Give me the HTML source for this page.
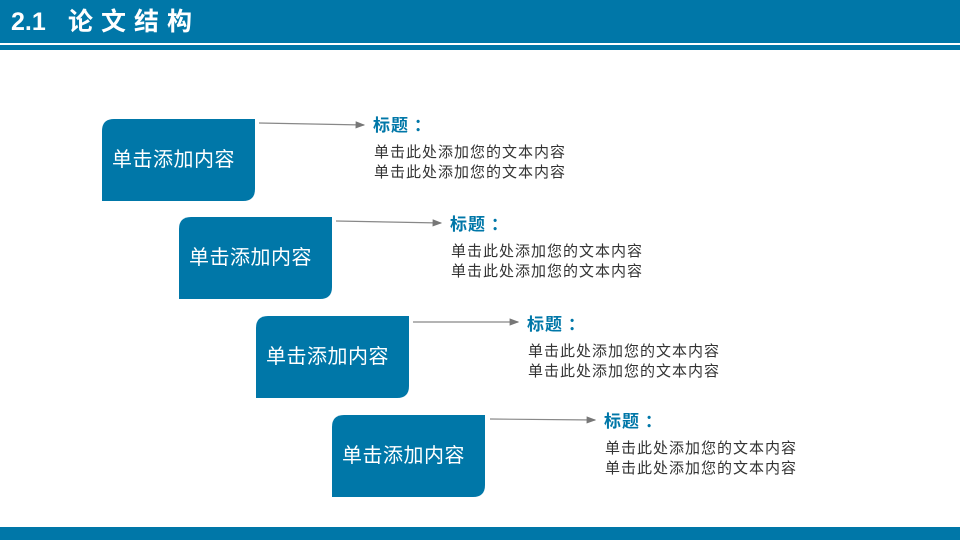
<!DOCTYPE html>
<html><head><meta charset="utf-8"><style>
body{margin:0;width:960px;height:540px;background:#fff;position:relative;overflow:hidden;font-family:"Liberation Sans","Noto Sans CJK SC",sans-serif}
.hd{position:absolute;left:0;top:0;width:960px;height:43px;background:#0077a8}
.hl{position:absolute;left:0;top:45px;width:960px;height:5px;background:#0077a8}
.ht{position:absolute;left:11px;top:6px;color:#fff;font-weight:bold;font-size:25px;line-height:32px}
.ht span{position:absolute;left:57px;letter-spacing:8px;white-space:nowrap}
.ft{position:absolute;left:0;top:527px;width:960px;height:13px;background:#0077a8}
.box{position:absolute;width:143px;padding-left:10px;height:82px;color:#fff;font-size:20px;line-height:82px;text-align:left;letter-spacing:0.5px}
.t{position:absolute;color:#0077a8;font-weight:bold;font-size:17px;line-height:20px;font-family:"Noto Sans CJK SC",sans-serif;letter-spacing:1px}
.d{position:absolute;color:#333;font-size:15px;line-height:20px;letter-spacing:1px}
</style></head><body>
<div class="hd"></div><div class="hl"></div><div class="ht">2.1<span>论文结构</span></div>
<div class="ft"></div>
<svg width="960" height="540" style="position:absolute;left:0;top:0">
<defs><marker id="a" markerWidth="8" markerHeight="8" refX="7" refY="4" orient="auto"><path d="M0,1 L8,4 L0,7z" fill="#777"/></marker>
<path id="b" d="M12,0 H153 V70 Q153,82 141,82 H0 V12 Q0,0 12,0Z" fill="#0077a8"/></defs>
<use href="#b" x="102" y="119"/><use href="#b" x="179" y="217"/><use href="#b" x="256" y="316"/><use href="#b" x="332" y="415"/>
<g stroke="#888" stroke-width="1.2" marker-end="url(#a)">
<line x1="259" y1="123" x2="364" y2="125"/>
<line x1="336" y1="221" x2="441" y2="223"/>
<line x1="413" y1="322" x2="518" y2="322"/>
<line x1="490" y1="419" x2="595" y2="420"/>
</g></svg>
<div class="box" style="left:102px;top:119px">单击添加内容</div>
<div class="box" style="left:179px;top:217px">单击添加内容</div>
<div class="box" style="left:256px;top:316px">单击添加内容</div>
<div class="box" style="left:332px;top:415px">单击添加内容</div>
<div class="t" style="left:373px;top:114px">标题 ：</div>
<div class="d" style="left:374px;top:143px">单击此处添加您的文本内容<br>单击此处添加您的文本内容</div>
<div class="t" style="left:450px;top:213px">标题 ：</div>
<div class="d" style="left:451px;top:242px">单击此处添加您的文本内容<br>单击此处添加您的文本内容</div>
<div class="t" style="left:527px;top:313px">标题 ：</div>
<div class="d" style="left:528px;top:342px">单击此处添加您的文本内容<br>单击此处添加您的文本内容</div>
<div class="t" style="left:604px;top:410px">标题 ：</div>
<div class="d" style="left:605px;top:439px">单击此处添加您的文本内容<br>单击此处添加您的文本内容</div>
</body></html>
